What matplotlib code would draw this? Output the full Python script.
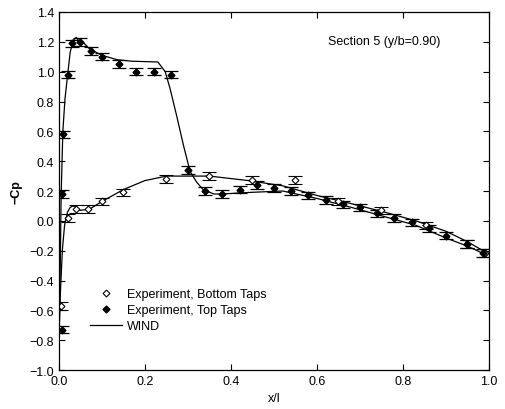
import numpy as np
import matplotlib
matplotlib.use("Agg")
import matplotlib.pyplot as plt
from matplotlib.lines import Line2D

plt.rcParams['font.family'] = ['Liberation Sans', 'DejaVu Sans']

# Experiment, top taps (filled diamonds)
top_x = [0.007, 0.007, 0.009, 0.02, 0.03, 0.05, 0.075, 0.10, 0.14, 0.18, 0.22, 0.26,
         0.30, 0.34, 0.38, 0.42, 0.46, 0.50, 0.54, 0.58, 0.62, 0.66, 0.70, 0.74,
         0.78, 0.82, 0.86, 0.90, 0.95, 0.987]
top_cp = [-0.73, 0.18, 0.58, 0.98, 1.19, 1.20, 1.14, 1.10, 1.05, 1.00, 1.00, 0.98,
          0.34, 0.20, 0.18, 0.21, 0.24, 0.22, 0.20, 0.17, 0.14, 0.11, 0.09, 0.05,
          0.02, -0.01, -0.05, -0.10, -0.155, -0.215]

# Experiment, bottom taps (open diamonds)
bot_x = [0.004, 0.02, 0.04, 0.067, 0.10, 0.15, 0.25, 0.35, 0.45, 0.55, 0.65, 0.75, 0.853, 0.95, 0.99]
bot_cp = [-0.57, 0.02, 0.08, 0.08, 0.13, 0.19, 0.28, 0.30, 0.275, 0.275, 0.13, 0.07, -0.03, -0.155, -0.215]

# WIND, upper surface
wu_x = [0.0, 0.003, 0.005, 0.009, 0.014, 0.019, 0.026, 0.033, 0.04, 0.048, 0.055, 0.072,
        0.10, 0.135, 0.17, 0.23, 0.247, 0.258, 0.274, 0.29, 0.305, 0.32, 0.335, 0.36,
        0.38, 0.44, 0.52, 0.60, 0.68, 0.755, 0.83, 0.90, 0.95, 0.995]
wu_cp = [-0.80, -0.3, 0.17, 0.60, 0.82, 0.95, 1.13, 1.21, 1.23, 1.20, 1.20, 1.15,
         1.11, 1.08, 1.07, 1.065, 1.0, 0.89, 0.70, 0.50, 0.33, 0.26, 0.21, 0.18,
         0.18, 0.19, 0.20, 0.15, 0.09, 0.03, -0.03, -0.115, -0.17, -0.23]

# WIND, lower surface
wl_x = [0.0, 0.003, 0.008, 0.013, 0.02, 0.026, 0.033, 0.04, 0.049, 0.072, 0.10, 0.15,
        0.20, 0.25, 0.29, 0.35, 0.44, 0.52, 0.60, 0.68, 0.755, 0.83, 0.90, 0.95, 0.995]
wl_cp = [-0.80, -0.50, -0.19, -0.03, 0.06, 0.09, 0.10, 0.09, 0.07, 0.08, 0.13, 0.21,
         0.27, 0.30, 0.30, 0.30, 0.27, 0.235, 0.17, 0.115, 0.06, 0.0, -0.07, -0.14, -0.215]

y_ticks = [-1.0, -0.8, -0.6, -0.4, -0.2, 0.0, 0.2, 0.4, 0.6, 0.8, 1.0, 1.2, 1.4]
x_ticks = [0.0, 0.2, 0.4, 0.6, 0.8, 1.0]

err = 0.025

fig = plt.figure(figsize=(5.05, 4.10), dpi=100)
ax = fig.add_axes([0.1168, 0.0951, 0.8515, 0.8732])

ax.plot(wu_x, wu_cp, color='black', lw=0.9)
ax.plot(wl_x, wl_cp, color='black', lw=0.9)

ax.errorbar(bot_x, bot_cp, yerr=err, fmt='D', ms=3.5, mfc='white', mec='black', mew=0.8,
            ecolor='black', elinewidth=0.9, capsize=5, capthick=0.9)
ax.errorbar(top_x, top_cp, yerr=err, fmt='D', ms=3.5, mfc='black', mec='black',
            ecolor='black', elinewidth=0.9, capsize=5, capthick=0.9)

ax.set_xlim(0, 1)
ax.set_ylim(-1.0, 1.4)
ax.set_xticks(x_ticks)
ax.set_yticks(y_ticks)
ax.set_xticklabels(['%.1f' % v for v in x_ticks])
ax.set_yticklabels(['%.1f' % v if v >= 0 else '\u2212%.1f' % -v for v in y_ticks])
ax.tick_params(direction='in', length=4, width=0.8, top=True, right=True, labelsize=9)
for s in ax.spines.values():
    s.set_linewidth(0.9)

ax.set_xlabel('x/l', fontsize=9)
ax.set_ylabel('\u2212Cp', fontsize=9, fontweight='bold', labelpad=5)

ax.text(0.626, 0.919, 'Section 5 (y/b=0.90)', transform=ax.transAxes, fontsize=9,
        va='center', ha='left')

handles = [
    Line2D([], [], ls='none', marker='D', ms=3.5, mfc='white', mec='black', mew=0.8),
    Line2D([], [], ls='none', marker='D', ms=3.5, mfc='black', mec='black'),
    Line2D([], [], color='black', lw=0.9),
]
ax.legend(handles, ['Experiment, Bottom Taps', 'Experiment, Top Taps', 'WIND'],
          loc='lower left', bbox_to_anchor=(0.045, 0.075), frameon=False, fontsize=9,
          handlelength=2.6, handletextpad=0.4, labelspacing=0.32, numpoints=1)

fig.savefig('out.png', dpi=100)
